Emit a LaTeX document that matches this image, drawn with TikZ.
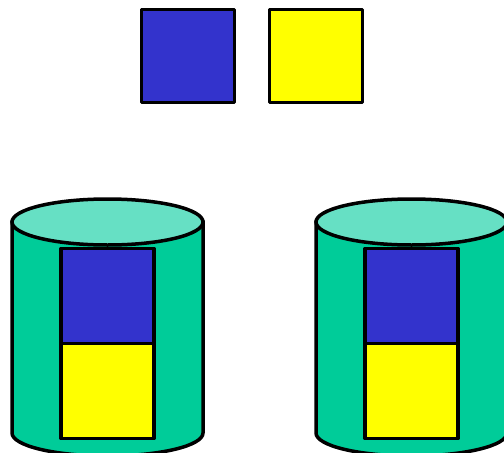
\documentclass[tikz,border=0pt]{standalone}
\usetikzlibrary{positioning}
\definecolor{blockblue}{HTML}{3333CC}
\definecolor{blockyellow}{HTML}{FFFF00}
\definecolor{drumbody}{HTML}{00CC99}
\definecolor{drumlid}{HTML}{66E0C4}
\tikzset{
  block/.style={draw, line width=3.5pt, minimum width=93pt, minimum height=93pt,
                inner sep=0pt, outer sep=0pt, line join=round},
  blueblock/.style={block, fill=blockblue},
  yellowblock/.style={block, fill=blockyellow},
  drum/.style={draw, line width=3.5pt, fill=drumbody},
  drumtop/.style={draw, line width=3.5pt, fill=drumlid},
}
\begin{document}
\begin{tikzpicture}[x=1pt, y=-1pt]
    \useasboundingbox (0,0) rectangle (504,453);
    \node[blueblock] (b0) at (188,56) {};
    \node[yellowblock] (y0) at (316,56) {};
    % two drums, each holding a blue and a yellow block
    \foreach \cx/\n in {107.5/1, 411.5/2} {
      \draw[drum] (\cx-95.5,222) -- (\cx-95.5,433)
        arc[start angle=180, end angle=0, x radius=95.5, y radius=23]
        -- (\cx+95.5,222) -- cycle;
      \draw[drumtop] (\cx,222) ellipse[x radius=95.5, y radius=23];
      \node[blueblock, minimum height=95pt] (b\n) at (\cx,296) {};
      \node[yellowblock, minimum height=95pt, below=0pt of b\n] (y\n) {};
    }
  \end{tikzpicture}
\end{document}
